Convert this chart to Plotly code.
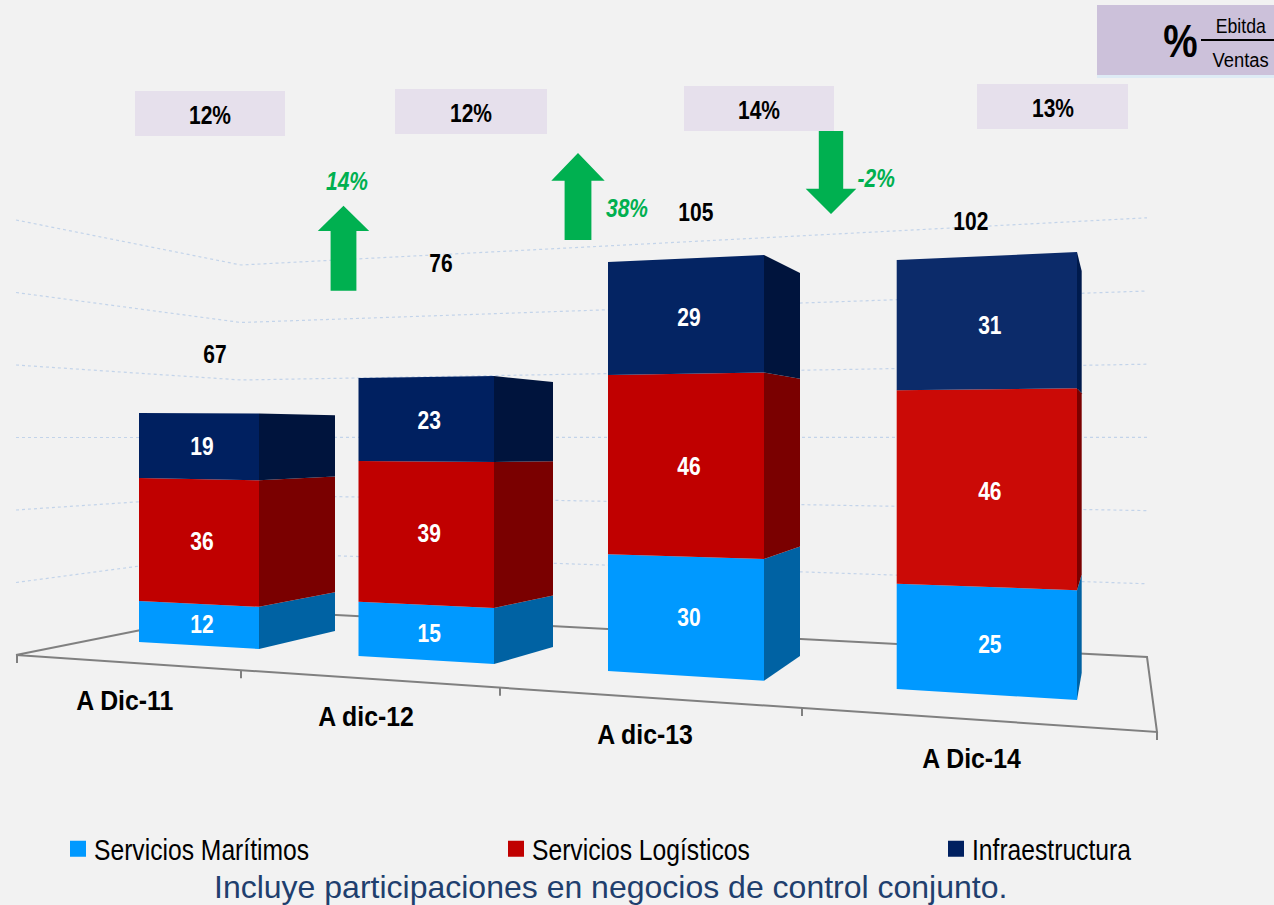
import plotly.graph_objects as go

# ---------- data ----------
categories = ["A Dic-11", "A dic-12", "A dic-13", "A Dic-14"]
maritimos = [12, 15, 30, 25]
logisticos = [36, 39, 46, 46]
infraestructura = [19, 23, 29, 31]
totales = [67, 76, 105, 102]
ebitda_pct = ["12%", "12%", "14%", "13%"]
crecimiento = [14, 38, -2]
series_names = ["Servicios Marítimos", "Servicios Logísticos", "Infraestructura"]
grid_steps = [1, 2, 3, 4, 5, 6]

# ---------- look ----------
BG = "#F2F2F2"
SANS = "Liberation Sans, Arial"
front_cols = [["#0099FF", "#C00000", "#002060"], ["#0099FF", "#C00000", "#002060"],
              ["#0099FF", "#C00000", "#042463"], ["#0099FF", "#CB0A06", "#0C2B6A"]]
side_cols = [["#0062A3", "#7A0000", "#00143D"], ["#0062A3", "#7A0000", "#00143D"],
             ["#0062A3", "#7A0000", "#00143D"], ["#0062A3", "#7A0000", "#001A4C"]]
legend_cols = ["#0099FF", "#C00000", "#002060"]

# projection of the 3-D scene on the canvas: per bar, x of the 3 vertical edges,
# and for each edge the floor position and the pixels per unit of value
edges_x = [(139, 259, 335), (358.5, 494, 553), (608, 764, 800), (896.7, 1077, 1081.7)]
edges_floor = [(642, 649, 631), (656, 664, 647), (671, 680.7, 656), (689, 700, 673)]
edges_scale = [(3.418, 3.515, 3.22), (3.61, 3.74, 3.44), (3.895, 4.054, 3.648), (4.206, 4.392, 3.94)]
label_shift = [2.5, 3, 4, 5.5]


def ey(b, e, v):
    return edges_floor[b][e] - edges_scale[b][e] * v


fig = go.Figure()
COMMON = dict(hoverinfo="skip", showlegend=False)

# walls: value gridlines (left wall, then back wall)
wall_x = (16, 241, 1147)
wall_floor = (655, 610, 657)
wall_step = (72.5, 57.5, 73.2)
for g in grid_steps:
    fig.add_trace(go.Scatter(x=list(wall_x), y=[f - s * g for f, s in zip(wall_floor, wall_step)],
                             mode="lines", line=dict(color="#C3D4EA", width=1.2, dash="dot"), **COMMON))

# floor
AX = dict(color="#808080", width=2)
fig.add_trace(go.Scatter(x=[16, 241, 1147, 1157, 16], y=[655, 610, 657, 732, 655],
                         mode="lines", line=AX, **COMMON))
floor_front = lambda x: 655 + (x - 16) * 77 / 1141
for tx in (17, 241, 500, 802, 1157):
    fig.add_trace(go.Scatter(x=[tx, tx], y=[floor_front(tx), floor_front(tx) + 8],
                             mode="lines", line=AX, **COMMON))

# bars
stacks = list(zip(maritimos, logisticos, infraestructura))
for b, stack in enumerate(stacks):
    xl, xr, xs = edges_x[b]
    lo = 0
    for k, val in enumerate(stack):
        hi = lo + val
        fig.add_trace(go.Scatter(x=[xr, xs, xs, xr, xr],
                                 y=[ey(b, 1, lo), ey(b, 2, lo), ey(b, 2, hi), ey(b, 1, hi), ey(b, 1, lo)],
                                 mode="lines", fill="toself", fillcolor=side_cols[b][k],
                                 line=dict(width=0), **COMMON))
        fig.add_trace(go.Scatter(x=[xl, xr, xr, xl, xl],
                                 y=[ey(b, 0, lo), ey(b, 1, lo), ey(b, 1, hi), ey(b, 0, hi), ey(b, 0, lo)],
                                 mode="lines", fill="toself", fillcolor=front_cols[b][k],
                                 line=dict(width=0), **COMMON))
        mid = lo + val / 2
        fig.add_trace(go.Scatter(x=[(xl + xr) / 2 + 3],
                                 y=[(ey(b, 0, mid) + ey(b, 1, mid)) / 2 + label_shift[b]],
                                 mode="text", text=[str(val)],
                                 textfont=dict(family=SANS, size=25, color="white", weight="bold"),
                                 **COMMON))
        lo = hi

# legend entries: one legend per series so each sits at its own place
legend_keys = ["legend", "legend2", "legend3"]
legend_x = [58, 496, 936]
for name, col, key in zip(series_names, legend_cols, legend_keys):
    fig.add_trace(go.Scatter(x=[None], y=[None], mode="markers", name=name, hoverinfo="skip", legend=key,
                             showlegend=True, marker=dict(symbol="square", size=16, color=col)))

ann = []
shapes = []


def text(x, y, s, size, color="black", bold=True, italic=False):
    ann.append(dict(x=x, y=y, xref="x", yref="y", text=s, showarrow=False, xanchor="center", yanchor="middle",
                    font=dict(family=SANS, size=size, color=color, weight="bold" if bold else "normal",
                              style="italic" if italic else "normal")))


# totals
total_pos = [(215, 354), (441, 263), (696, 212), (971, 221)]
for t, (x, y) in zip(totales, total_pos):
    text(x, y, str(t), 25)

# category labels
cat_pos = [(125, 701), (366, 717), (645, 735), (971, 759)]
for c, (x, y) in zip(categories, cat_pos):
    text(x, y, c, 27)

# Ebitda boxes
box_pos = [(135, 285, 91, 136), (395, 547, 89, 134), (684, 834, 86, 131), (977, 1128, 84, 129)]
for p, (x0, x1, y0, y1) in zip(ebitda_pct, box_pos):
    shapes.append(dict(type="rect", x0=x0, x1=x1, y0=y0, y1=y1, xref="x", yref="y",
                       fillcolor="#E6E0EC", line=dict(width=0), layer="below"))
    text((x0 + x1) / 2, (y0 + y1) / 2 + 1, p, 25)

# header box
shapes.append(dict(type="rect", x0=1097, x1=1274, y0=75, y1=78, xref="x", yref="y",
                   fillcolor="#DEEBF5", line=dict(width=0), layer="below"))
shapes.append(dict(type="rect", x0=1097, x1=1274, y0=5, y1=75, xref="x", yref="y",
                   fillcolor="#CCC1DA", line=dict(width=0), layer="below"))
shapes.append(dict(type="line", x0=1201, x1=1274, y0=40, y1=40, xref="x", yref="y",
                   line=dict(color="black", width=2)))
text(1180, 41, "%", 46)
text(1241, 25, "Ebitda", 21, bold=False)
text(1240, 60, "Ventas", 20, bold=False)

# growth arrows and labels
GREEN = "#00B050"
arrow_geom = [(343.5, 205.7, 231, 290.7, 25.7, 12.9), (578, 153, 180.7, 240, 26.7, 13.4),
              (831, 214, 188.7, 131, 25.3, 12.2)]
grow_pos = [(347, 181), (627, 208), (876, 178)]
for g, (cx, tip, sh, end, hw, sw), (lx, ly) in zip(crecimiento, arrow_geom, grow_pos):
    fig.add_trace(go.Scatter(x=[cx, cx + hw, cx + sw, cx + sw, cx - sw, cx - sw, cx - hw, cx],
                             y=[tip, sh, sh, end, end, sh, sh, tip],
                             mode="lines", fill="toself", fillcolor=GREEN, line=dict(width=0), **COMMON))
    text(lx, ly, f"{g}%", 25, color=GREEN, italic=True)

# footnote
text(610, 887, "Incluye participaciones en negocios de control conjunto.", 32, color="#1F3F6E", bold=False)

leg = dict(orientation="v", xanchor="left", y=1 - 849 / 905, yanchor="middle", bgcolor="rgba(0,0,0,0)",
           font=dict(family=SANS, size=29, color="black"), itemclick=False, itemdoubleclick=False)
fig.update_layout(
    width=1274, height=905, margin=dict(l=0, r=0, t=0, b=0, pad=0),
    paper_bgcolor=BG, plot_bgcolor=BG,
    xaxis=dict(range=[0, 1274], visible=False, fixedrange=True),
    yaxis=dict(range=[905, 0], visible=False, fixedrange=True),
    annotations=ann, shapes=shapes,
    legend=dict(leg, x=legend_x[0] / 1274),
    legend2=dict(leg, x=legend_x[1] / 1274),
    legend3=dict(leg, x=legend_x[2] / 1274),
)

# the reference uses a condensed face, which is not installed: condense the real text glyphs
POST = """
document.body.style.margin='0';document.body.style.overflow='hidden';
var gd=document.querySelector('.plotly-graph-div');
function squeeze(t,f){
  if(t.getAttribute('textLength'))return false;
  var w=t.getComputedTextLength();
  t.setAttribute('lengthAdjust','spacingAndGlyphs');t.setAttribute('textLength',w*f);
  return true;
}
function applyAll(){
  gd.querySelectorAll('.annotation-text').forEach(function(t){
    var s=t.textContent;
    if(s.indexOf('Incluye')===0)return;
    if(s.indexOf('A ')===0){squeeze(t,0.92);return;}
    if(s==='Ventas'){squeeze(t,0.92);return;}
    squeeze(t,0.84);
  });
  gd.querySelectorAll('.textpoint text').forEach(function(t){squeeze(t,0.84);});
  gd.querySelectorAll('.legendtext,.legend2text,.legend3text').forEach(function(t){
    if(squeeze(t,0.85))t.setAttribute('x',parseFloat(t.getAttribute('x'))-4);
  });
}
applyAll();
[20,100,300,800].forEach(function(ms){setTimeout(applyAll,ms);});
"""
fig.write_html("out.html", config=dict(displayModeBar=False), post_script=POST)
